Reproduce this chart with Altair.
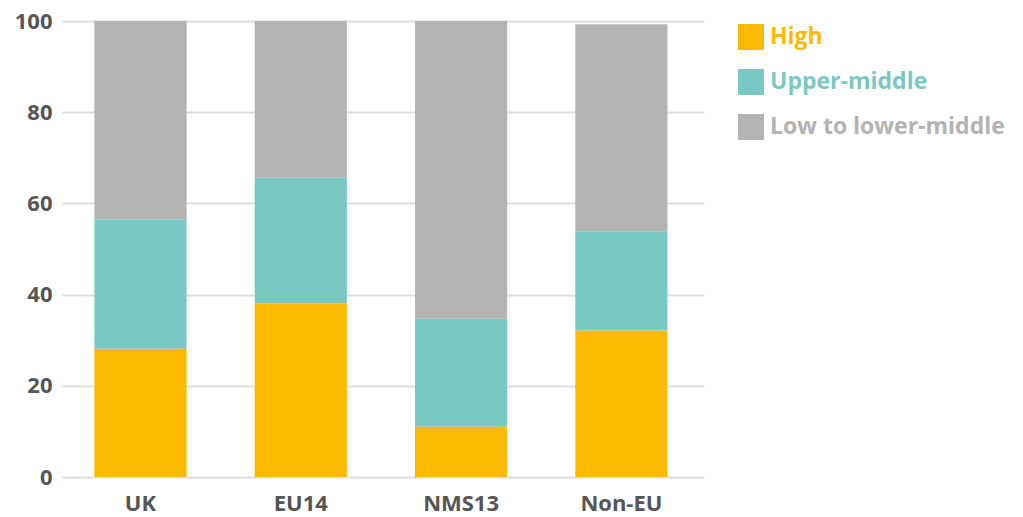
import altair as alt
import pandas as pd

regions = ["UK", "EU14", "NMS13", "Non-EU"]
levels = ["High", "Upper-middle", "Low to lower-middle"]
high = [28.1, 38.1, 11.0, 32.1]
upper = [28.4, 27.5, 23.7, 21.8]
low = [43.5, 34.4, 65.3, 45.4]
colors = ["#FBBA00", "#7AC8C3", "#B4B3B2"]

rows = []
for i, r in enumerate(regions):
    for j, (lv, vals) in enumerate(zip(levels, [high, upper, low])):
        rows.append({"region": r, "level": lv, "value": vals[i], "order": j})
df = pd.DataFrame(rows)

FONT = "Open Sans"
label_expr = ("datum.label == 'High' ? '#FBBA00' : "
              "datum.label == 'Upper-middle' ? '#7AC8C3' : '#B4B3B2'")

chart = alt.Chart(df).mark_bar().encode(
    x=alt.X("region:N", sort=regions,
            scale=alt.Scale(paddingInner=0.425, paddingOuter=0.215, align=0.47),
            axis=alt.Axis(title=None, labelAngle=0, domain=False, ticks=False,
                          labelPadding=16, labelFontSize=22, labelFont=FONT,
                          labelFontWeight="bold", labelColor="#555555")),
    y=alt.Y("value:Q", stack="zero",
            scale=alt.Scale(domain=[0, 100], nice=False),
            axis=alt.Axis(title=None, values=[0, 20, 40, 60, 80, 100],
                          domain=False, ticks=False, labelPadding=10,
                          labelFontSize=22, labelFont=FONT, labelFontWeight="bold",
                          labelColor="#555555", gridColor="#dddddd", gridWidth=2)),
    color=alt.Color("level:N", sort=levels,
                    scale=alt.Scale(domain=levels, range=colors),
                    legend=alt.Legend(title=None, orient="none", legendX=676, legendY=3,
                                      symbolType="square", symbolSize=676,
                                      symbolStrokeWidth=0, symbolOpacity=1,
                                      rowPadding=19, labelOffset=6, labelLimit=0,
                                      labelFontSize=23, labelFont=FONT,
                                      labelFontWeight="bold",
                                      labelColor={"expr": label_expr})),
    order=alt.Order("order:Q", sort="ascending"),
).properties(
    width=642, height=456,
    autosize=alt.AutoSizeParams(type="none"),
    padding={"left": 62, "top": 21, "right": 319, "bottom": 40},
).configure_view(stroke=None)

chart.save("out.html", embed_options={"renderer": "svg", "actions": False})
